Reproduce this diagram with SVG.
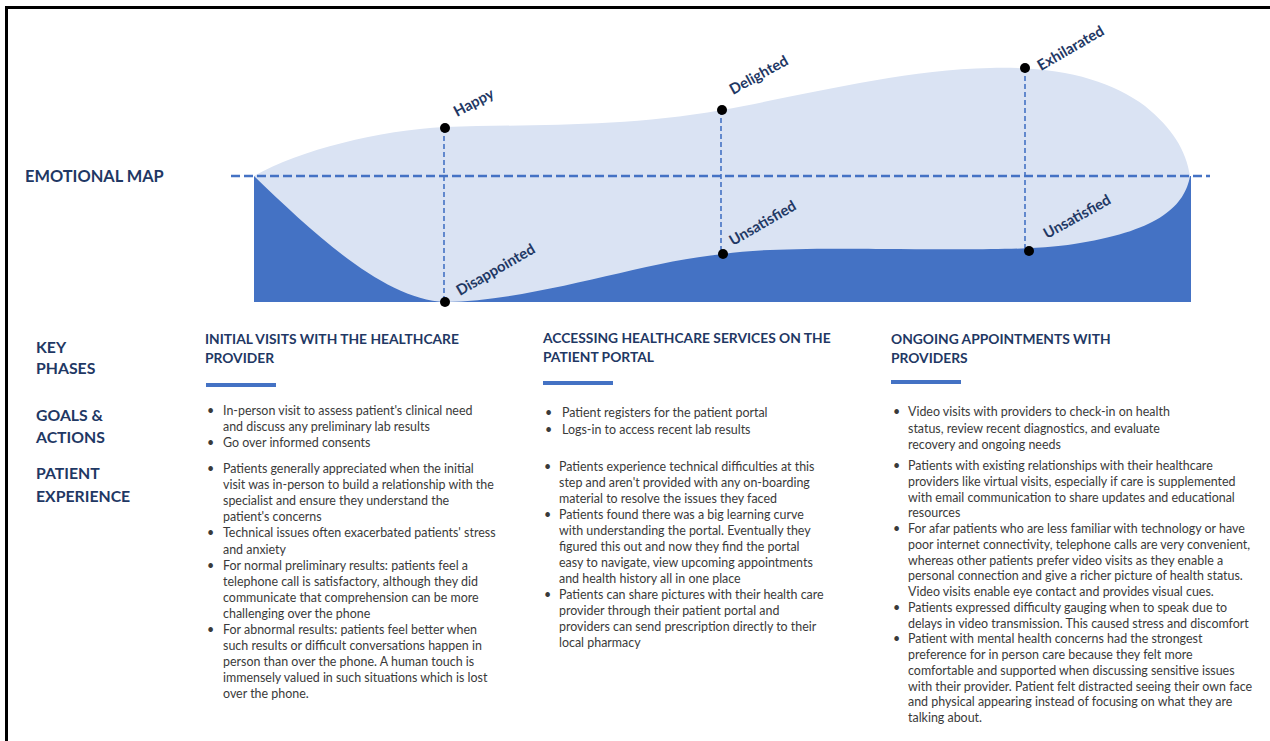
<svg xmlns="http://www.w3.org/2000/svg" width="1270" height="741" viewBox="0 0 1270 741">
<style>
.frame{fill:none;stroke:#000;stroke-width:3}
.lbl{font-family:Lato,"Liberation Sans",sans-serif;font-weight:700;fill:#1F3864}
.side{font-size:15.8px}
.emo{font-size:14.8px}
.head{font-family:Lato,"Liberation Sans",sans-serif;font-weight:700;font-size:13.8px;fill:#1F3864}
.body{font-family:Lato,"Liberation Sans",sans-serif;font-size:12.45px;fill:#3A3A3A}
.bar{fill:#4472C4}
.hdash{stroke:#4472C4;stroke-width:2.5;stroke-dasharray:9 4;fill:none}
.vdash{stroke:#4472C4;stroke-width:1.6;stroke-dasharray:5 3;fill:none}
.dot{fill:#000}
</style>
<rect width="1270" height="741" fill="#fff"/>
<path class="frame" d="M6.5,741 V7.5 H1270"/>

<g id="emotional-map">
<rect x="254" y="176" width="937" height="126" fill="#4472C4"/>
<path fill="#DAE3F3" d="M254,176 C300,150 380,130 445,127 C530,124 620,128 722,110 C800,96 900,70 990,68 C1060,66 1110,80 1145,106 C1172,128 1186,150 1190,176 C1185,205 1160,230 1080,243 C1050,249 1000,250 900,249 C800,248 760,249 723,254 C640,262 540,300 445,302 C385,300 315,235 254,176 Z"/>
</g>

<g id="connectors">
<line class="hdash" x1="231" y1="176" x2="1210" y2="176"/>
<line class="vdash" x1="444" y1="128" x2="444" y2="302"/>
<line class="vdash" x1="721" y1="110" x2="721" y2="254"/>
<line class="vdash" x1="1025" y1="68" x2="1025" y2="251"/>
</g>

<g id="points">
<g id="happy"><circle class="dot" cx="445" cy="128" r="5"/><text class="lbl emo" x="457" y="117" transform="rotate(-28 457 117)">Happy</text></g>
<g id="disappointed"><circle class="dot" cx="445" cy="302" r="5"/><text class="lbl emo" x="460" y="296" transform="rotate(-30 460 296)">Disappointed</text></g>
<g id="delighted"><circle class="dot" cx="722" cy="110" r="5"/><text class="lbl emo" x="733" y="95" transform="rotate(-29 733 95)">Delighted</text></g>
<g id="unsatisfied-1"><circle class="dot" cx="723" cy="254" r="5"/><text class="lbl emo" x="733" y="246" transform="rotate(-30 733 246)">Unsatisfied</text></g>
<g id="exhilarated"><circle class="dot" cx="1025" cy="68" r="5"/><text class="lbl emo" x="1041" y="71" transform="rotate(-30 1041 71)">Exhilarated</text></g>
<g id="unsatisfied-2"><circle class="dot" cx="1029" cy="251" r="5"/><text class="lbl emo" x="1047" y="239" transform="rotate(-29 1047 239)">Unsatisfied</text></g>
</g>

<g id="row-labels">
<text class="lbl" x="25" y="182" font-size="16.4px">EMOTIONAL MAP</text>
<text class="lbl side" x="36" y="353">KEY</text>
<text class="lbl side" x="36" y="374">PHASES</text>
<text class="lbl side" x="36" y="421">GOALS &amp;</text>
<text class="lbl side" x="36" y="443">ACTIONS</text>
<text class="lbl side" x="36" y="479">PATIENT</text>
<text class="lbl side" x="36" y="502">EXPERIENCE</text>
</g>

<g id="phase-1">
<text class="head" x="205" y="344">INITIAL VISITS WITH THE HEALTHCARE</text>
<text class="head" x="205" y="363">PROVIDER</text>
<rect class="bar" x="206" y="383" width="70" height="4"/>
<g class="body">
<text x="207" y="415">•</text><text x="223" y="415">In-person visit to assess patient's clinical need</text>
<text x="223" y="431">and discuss any preliminary lab results</text>
<text x="207" y="447">•</text><text x="223" y="447">Go over informed consents</text>
<text x="207" y="473">•</text><text x="223" y="473">Patients generally appreciated when the initial</text>
<text x="223" y="489">visit was in-person to build a relationship with the</text>
<text x="223" y="505">specialist and ensure they understand the</text>
<text x="223" y="521">patient's concerns</text>
<text x="207" y="537">•</text><text x="223" y="537">Technical issues often exacerbated patients' stress</text>
<text x="223" y="553.5">and anxiety</text>
<text x="207" y="569.5">•</text><text x="223" y="569.5">For normal preliminary results: patients feel a</text>
<text x="223" y="585.7">telephone call is satisfactory, although they did</text>
<text x="223" y="601.8">communicate that comprehension can be more</text>
<text x="223" y="618">challenging over the phone</text>
<text x="207" y="634">•</text><text x="223" y="634">For abnormal results: patients feel better when</text>
<text x="223" y="650">such results or difficult conversations happen in</text>
<text x="223" y="666.2">person than over the phone. A human touch is</text>
<text x="223" y="682.3">immensely valued in such situations which is lost</text>
<text x="223" y="698.4">over the phone.</text>
</g>
</g>

<g id="phase-2">
<text class="head" x="543" y="343">ACCESSING HEALTHCARE SERVICES ON THE</text>
<text class="head" x="543" y="362">PATIENT PORTAL</text>
<rect class="bar" x="543" y="381" width="70" height="4"/>
<g class="body">
<text x="545" y="417">•</text><text x="562" y="417">Patient registers for the patient portal</text>
<text x="545" y="434">•</text><text x="562" y="434">Logs-in to access recent lab results</text>
<text x="544" y="471">•</text><text x="559" y="471">Patients experience technical difficulties at this</text>
<text x="559" y="487">step and aren't provided with any on-boarding</text>
<text x="559" y="503">material to resolve the issues they faced</text>
<text x="544" y="519">•</text><text x="559" y="519">Patients found there was a big learning curve</text>
<text x="559" y="535">with understanding the portal. Eventually they</text>
<text x="559" y="551">figured this out and now they find the portal</text>
<text x="559" y="567">easy to navigate, view upcoming appointments</text>
<text x="559" y="583">and health history all in one place</text>
<text x="544" y="599">•</text><text x="559" y="599">Patients can share pictures with their health care</text>
<text x="559" y="615">provider through their patient portal and</text>
<text x="559" y="631">providers can send prescription directly to their</text>
<text x="559" y="647">local pharmacy</text>
</g>
</g>

<g id="phase-3">
<text class="head" x="891" y="344">ONGOING APPOINTMENTS WITH</text>
<text class="head" x="891" y="363">PROVIDERS</text>
<rect class="bar" x="891" y="380" width="70" height="4"/>
<g class="body">
<text x="893" y="416">•</text><text x="908" y="416">Video visits with providers to check-in on health</text>
<text x="908" y="433">status, review recent diagnostics, and evaluate</text>
<text x="908" y="449">recovery and ongoing needs</text>
<text x="893" y="470">•</text><text x="908" y="470">Patients with existing relationships with their healthcare</text>
<text x="908" y="485.8">providers like virtual visits, especially if care is supplemented</text>
<text x="908" y="501.5">with email communication to share updates and educational</text>
<text x="908" y="517.3">resources</text>
<text x="893" y="533">•</text><text x="908" y="533">For afar patients who are less familiar with technology or have</text>
<text x="908" y="548.8">poor internet connectivity, telephone calls are very convenient,</text>
<text x="908" y="564.5">whereas other patients prefer video visits as they enable a</text>
<text x="908" y="580.3">personal connection and give a richer picture of health status.</text>
<text x="908" y="596">Video visits enable eye contact and provides visual cues.</text>
<text x="893" y="611.8">•</text><text x="908" y="611.8">Patients expressed difficulty gauging when to speak due to</text>
<text x="908" y="627.5">delays in video transmission. This caused stress and discomfort</text>
<text x="893" y="643.3">•</text><text x="908" y="643.3">Patient with mental health concerns had the strongest</text>
<text x="908" y="659">preference for in person care because they felt more</text>
<text x="908" y="674.8">comfortable and supported when discussing sensitive issues</text>
<text x="908" y="690.5">with their provider. Patient felt distracted seeing their own face</text>
<text x="908" y="706.3">and physical appearing instead of focusing on what they are</text>
<text x="908" y="722">talking about.</text>
</g>
</g>
</svg>
